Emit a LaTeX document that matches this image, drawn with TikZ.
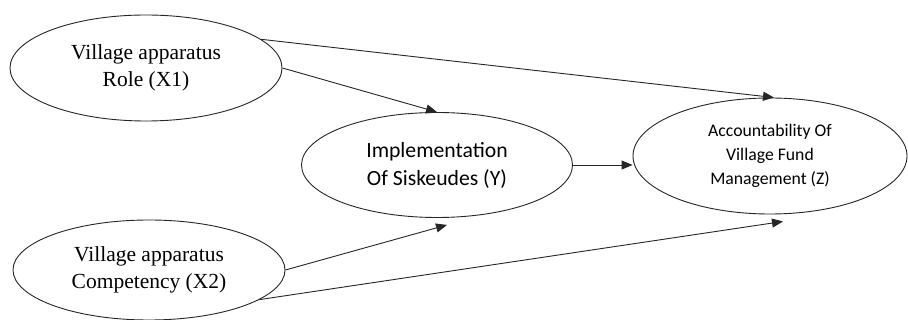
\documentclass[tikz,border=0pt]{standalone}
\usepackage{fontspec}
\setmainfont{Liberation Serif}
\newfontfamily\calib{Carlito}
\usetikzlibrary{shapes.geometric,arrows.meta}
\begin{document}
\begin{tikzpicture}[x=1pt,y=-1pt,
  oval/.style={draw=black!85,line width=0.9pt,ellipse,inner sep=0pt,align=center,fill=white},
  serifbig/.style={font=\fontsize{21.5}{27}\selectfont},
  sansbig/.style={font=\calib\fontsize{21.7}{28}\selectfont},
  sanssmall/.style={font=\calib\fontsize{17.7}{24}\selectfont},
  link/.style={draw=black!85,line width=0.9pt,-{Triangle[length=11pt,width=9pt]}}]
\useasboundingbox (0,0) rectangle (908,320);
\fill[white] (0,0) rectangle (908,320);
\node[oval,serifbig,minimum width=272pt,minimum height=106pt] (X1) at (146,68) {Village apparatus\\Role (X1)};
\node[oval,sansbig,minimum width=271pt,minimum height=105pt] (Y) at (437,165) {Implementation\\Of Siskeudes (Y)};
\node[oval,sanssmall,minimum width=274pt,minimum height=116pt] (Z) at (770,156) {Accountability Of\\Village Fund\\Management (Z)};
\node[oval,serifbig,minimum width=272pt,minimum height=100pt] (X2) at (149,270) {Village apparatus\\Competency (X2)};
\draw[link] (X1.14) -- ([xshift=4pt]Z.north);
\draw[link] (X1.east) -- (Y.north);
\draw[link] (Y.east) -- (Y.east -| Z.west);
\draw[link] (X2.east) -- ([xshift=10pt,yshift=-7pt]Y.south);
\draw[link] (X2.-15) -- ([xshift=13pt,yshift=-7pt]Z.south);
\end{tikzpicture}
\end{document}
